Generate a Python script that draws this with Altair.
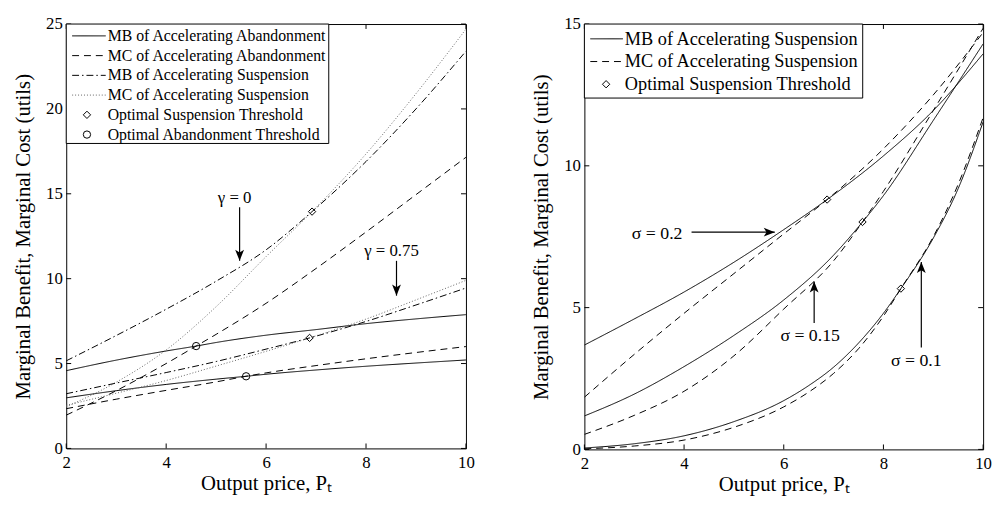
import altair as alt
import pandas as pd

FONT = "Liberation Serif"

# ---------------- data ----------------
X_TICKS = [2, 4, 6, 8, 10]
L_Y_TICKS = [0, 5, 10, 15, 20, 25]
R_Y_TICKS = [0, 5, 10, 15]

# Left panel: gamma = 0 and gamma = 0.75
ab_mb_g0_x = [2, 3, 4, 4.6, 5, 6, 7, 8, 9, 10]
ab_mb_g0_y = [4.58, 5.2, 5.74, 6.03, 6.24, 6.67, 7.0, 7.35, 7.63, 7.88]
ab_mc_g0_x = [2, 3, 4, 4.6, 5, 6, 7, 8, 9, 10]
ab_mc_g0_y = [1.96, 3.4, 5.0, 6.03, 6.72, 8.55, 10.6, 12.75, 14.95, 17.15]
su_mb_g0_x = [2, 3, 4, 5, 6, 6.92, 8, 9, 10]
su_mb_g0_y = [5.16, 6.65, 8.2, 9.85, 11.7, 13.95, 16.9, 20.0, 23.4]
su_mc_g0_x = [2, 3, 4, 5, 6, 6.92, 8, 9, 10]
su_mc_g0_y = [2.45, 3.9, 5.8, 8.35, 11.3, 13.95, 17.35, 20.9, 24.7]

ab_mb_g75_x = [2, 3, 4, 5, 5.6, 6, 7, 8, 9, 10]
ab_mb_g75_y = [2.98, 3.4, 3.77, 4.08, 4.25, 4.37, 4.62, 4.84, 5.03, 5.21]
ab_mc_g75_x = [2, 3, 4, 5, 5.6, 6, 7, 8, 9, 10]
ab_mc_g75_y = [2.34, 2.9, 3.42, 3.92, 4.25, 4.45, 4.88, 5.28, 5.65, 6.0]
su_mb_g75_x = [2, 3, 4, 5, 6, 6.87, 8, 9, 10]
su_mb_g75_y = [3.22, 3.85, 4.47, 5.12, 5.85, 6.51, 7.48, 8.45, 9.45]
su_mc_g75_x = [2, 3, 4, 5, 6, 6.87, 8, 9, 10]
su_mc_g75_y = [2.54, 3.25, 4.0, 4.85, 5.72, 6.51, 7.62, 8.75, 9.9]

left_susp_pts_x = [6.92, 6.87]
left_susp_pts_y = [13.95, 6.51]
left_aband_pts_x = [4.6, 5.6]
left_aband_pts_y = [6.03, 4.25]

# Right panel: sigma = 0.2, 0.15, 0.1
mb_s20_x = [2, 3, 4, 5, 6, 6.87, 8, 9, 10]
mb_s20_y = [3.68, 4.6, 5.55, 6.6, 7.75, 8.81, 10.35, 11.95, 13.95]
mc_s20_x = [2, 3, 4, 5, 6, 6.87, 8, 9, 10]
mc_s20_y = [1.84, 3.35, 4.8, 6.2, 7.6, 8.81, 10.6, 12.5, 14.7]
mb_s15_x = [2, 3, 4, 5, 6, 7, 7.58, 8, 9, 10]
mb_s15_y = [1.18, 1.95, 2.92, 4.02, 5.27, 6.85, 8.02, 8.95, 11.6, 14.3]
mc_s15_x = [2, 3, 4, 5, 6, 7, 7.58, 8, 9, 10]
mc_s15_y = [0.53, 1.2, 2.05, 3.3, 4.95, 6.65, 8.02, 9.1, 11.95, 14.85]
mb_s10_x = [2, 3, 4, 5, 6, 6.5, 7, 7.5, 8, 8.35, 9, 9.5, 10]
mb_s10_y = [0.05, 0.2, 0.48, 0.98, 1.72, 2.25, 2.9, 3.75, 4.8, 5.67, 7.45, 9.2, 11.55]
mc_s10_x = [2, 3, 4, 5, 6, 6.5, 7, 7.5, 8, 8.35, 9, 9.5, 10]
mc_s10_y = [0.02, 0.12, 0.33, 0.78, 1.5, 2.02, 2.68, 3.55, 4.7, 5.67, 7.5, 9.35, 11.7]

right_susp_pts_x = [6.87, 7.58, 8.35]
right_susp_pts_y = [8.81, 8.02, 5.67]

# annotations: label, text x, text y, arrow start (x, y), arrow tip (x, y), direction
left_ann_labels = ["γ = 0", "γ = 0.75"]
left_ann_text_x = [5.37, 8.51]
left_ann_text_y = [14.77, 11.63]
left_arrow_x = [5.47, 8.61]
left_arrow_y = [14.2, 11.05]
left_arrow_x2 = [5.47, 8.61]
left_arrow_y2 = [11.05, 9.0]
left_arrow_dir = ["down", "down"]

right_ann_labels = ["σ = 0.2", "σ = 0.15", "σ = 0.1"]
right_ann_text_x = [3.46, 6.53, 8.66]
right_ann_text_y = [7.59, 4.0, 3.13]
right_arrow_x = [4.15, 6.61, 8.76]
right_arrow_y = [7.66, 4.46, 3.59]
right_arrow_x2 = [5.82, 6.61, 8.76]
right_arrow_y2 = [7.66, 5.92, 6.61]
right_arrow_dir = ["right", "up", "up"]

left_legend_labels = ["MB of Accelerating Abandonment", "MC of Accelerating Abandonment",
                      "MB of Accelerating Suspension", "MC of Accelerating Suspension",
                      "Optimal Suspension Threshold", "Optimal Abandonment Threshold"]
left_legend_kinds = ["solid", "dashed", "dashdot", "dotted", "diamond", "circle"]
right_legend_labels = ["MB of Accelerating Suspension", "MC of Accelerating Suspension",
                       "Optimal Suspension Threshold"]
right_legend_kinds = ["solid", "dashed", "diamond"]

# ---------------- styling ----------------
DASH = {"solid": [1, 0], "dashed": [7, 5], "dashdot": [7, 3, 1.5, 3], "dotted": [1, 2]}
LINE_COLOR = {"solid": "black", "dashed": "black", "dashdot": "black", "dotted": "#666666"}
ARROW = {
    "down": "M0,0 L-0.4,-1 L0,-0.75 L0.4,-1 Z",
    "up": "M0,0 L-0.4,1 L0,0.75 L0.4,1 Z",
    "right": "M0,0 L-1,-0.4 L-0.75,0 L-1,0.4 Z",
}
TICK = 5
MARKER_SIZE = 55


def build_panel(series, points, ann, legend, ymax, yticks, W, H, legend_cfg, ann_size):
    xs = alt.Scale(domain=[2, 10], nice=False, zero=False)
    ys = alt.Scale(domain=[0, ymax], nice=False, zero=False)
    xaxis = alt.Axis(values=X_TICKS, format="d", title="Output price, Pₜ", ticks=False, domain=False,
                     grid=False, labelFont=FONT, labelFontSize=17, labelPadding=6, labelFlush=False,
                     labelOverlap=False, titleFont=FONT, titleFontSize=21, titleFontWeight="normal",
                     titlePadding=3, labelColor="black", titleColor="black")
    yaxis = alt.Axis(values=yticks, format="d", title="Marginal Benefit, Marginal Cost (utils)",
                     ticks=False, domain=False, grid=False, labelFont=FONT, labelFontSize=17,
                     labelPadding=4, labelFlush=False, labelOverlap=False, titleFont=FONT,
                     titleFontSize=21, titleFontWeight="normal", titlePadding=12,
                     labelColor="black", titleColor="black")
    X = lambda f="x": alt.X(f"{f}:Q", scale=xs, axis=xaxis)
    Y = lambda f="y": alt.Y(f"{f}:Q", scale=ys, axis=yaxis)

    rows = []
    for name, style, sx, sy in series:
        for a, b in zip(sx, sy):
            rows.append({"series": name, "style": style, "x": a, "y": b})
    df = pd.DataFrame(rows)
    styles = list(DASH)
    lines = alt.Chart(df).mark_line(strokeWidth=1, interpolate="monotone", clip=True).encode(
        x=X(), y=Y(), detail="series:N",
        strokeDash=alt.StrokeDash("style:N", scale=alt.Scale(domain=styles, range=[DASH[s] for s in styles]),
                                  legend=None),
        color=alt.Color("style:N", scale=alt.Scale(domain=styles, range=[LINE_COLOR[s] for s in styles]),
                        legend=None),
    )

    layers = [lines]
    for kind, px, py in points:
        pdf = pd.DataFrame({"x": px, "y": py})
        layers.append(alt.Chart(pdf).mark_point(color="black", filled=False, strokeWidth=1, size=MARKER_SIZE,
                                                opacity=1, shape=kind).encode(x=X(), y=Y()))

    labels, tx, ty, ax, ay, ax2, ay2, adir = ann
    adf = pd.DataFrame({"x": ax, "y": ay, "x2": ax2, "y2": ay2, "dir": adir})
    layers.append(alt.Chart(adf).mark_rule(color="black", strokeWidth=1.2).encode(
        x=X(), y=Y(), x2="x2:Q", y2="y2:Q"))
    for d in sorted(set(adir)):
        sub = adf[adf["dir"] == d]
        layers.append(alt.Chart(sub).mark_point(color="black", filled=True, size=500, opacity=1,
                                                strokeWidth=0, shape=ARROW[d]).encode(
            x=X("x2"), y=Y("y2")))
    tdf = pd.DataFrame({"x": tx, "y": ty, "label": labels})
    layers.append(alt.Chart(tdf).mark_text(font=FONT, fontSize=ann_size, color="black", align="center",
                                           baseline="middle").encode(x=X(), y=Y(), text="label:N"))

    xt = pd.DataFrame({"x": X_TICKS})
    yt = pd.DataFrame({"y": yticks})
    layers += [
        alt.Chart(xt).mark_rule(color="black", strokeWidth=1).encode(
            x=X(), y=alt.value(H), y2=alt.value(H - TICK)),
        alt.Chart(xt).mark_rule(color="black", strokeWidth=1).encode(
            x=X(), y=alt.value(0), y2=alt.value(TICK)),
        alt.Chart(yt).mark_rule(color="black", strokeWidth=1).encode(
            y=Y(), x=alt.value(0), x2=alt.value(TICK)),
        alt.Chart(yt).mark_rule(color="black", strokeWidth=1).encode(
            y=Y(), x=alt.value(W), x2=alt.value(W - TICK)),
    ]

    # legend box (MATLAB style, inside the axes)
    labs, kinds = legend
    lw, lh, row0, rowstep, l0, l1, mx, txx, fs = legend_cfg
    one = pd.DataFrame({"k": [0]})
    layers.append(alt.Chart(one).mark_rect(fill="white", stroke="black", strokeWidth=1).encode(
        x=alt.value(0), x2=alt.value(lw), y=alt.value(0), y2=alt.value(lh)))
    for i, (lab, kind) in enumerate(zip(labs, kinds)):
        yy = row0 + i * rowstep
        if kind in DASH:
            layers.append(alt.Chart(one).mark_rule(color=LINE_COLOR[kind], strokeWidth=1).encode(
                x=alt.value(l0), x2=alt.value(l1), y=alt.value(yy), strokeDash=alt.value(DASH[kind])))
        else:
            layers.append(alt.Chart(one).mark_point(color="black", filled=False, strokeWidth=1,
                                                    size=MARKER_SIZE, opacity=1, shape=kind).encode(
                x=alt.value(mx), y=alt.value(yy)))
        layers.append(alt.Chart(one).mark_text(font=FONT, fontSize=fs, color="black", align="left",
                                               baseline="middle").encode(
            x=alt.value(txx), y=alt.value(yy), text=alt.value(lab)))

    return alt.layer(*layers).properties(width=W, height=H)


left_series = [
    ("ab_mb_g0", "solid", ab_mb_g0_x, ab_mb_g0_y),
    ("ab_mc_g0", "dashed", ab_mc_g0_x, ab_mc_g0_y),
    ("su_mb_g0", "dashdot", su_mb_g0_x, su_mb_g0_y),
    ("su_mc_g0", "dotted", su_mc_g0_x, su_mc_g0_y),
    ("ab_mb_g75", "solid", ab_mb_g75_x, ab_mb_g75_y),
    ("ab_mc_g75", "dashed", ab_mc_g75_x, ab_mc_g75_y),
    ("su_mb_g75", "dashdot", su_mb_g75_x, su_mb_g75_y),
    ("su_mc_g75", "dotted", su_mc_g75_x, su_mc_g75_y),
]
right_series = [
    ("mb_s20", "solid", mb_s20_x, mb_s20_y),
    ("mc_s20", "dashed", mc_s20_x, mc_s20_y),
    ("mb_s15", "solid", mb_s15_x, mb_s15_y),
    ("mc_s15", "dashed", mc_s15_x, mc_s15_y),
    ("mb_s10", "solid", mb_s10_x, mb_s10_y),
    ("mc_s10", "dashed", mc_s10_x, mc_s10_y),
]

left = build_panel(
    left_series,
    [("diamond", left_susp_pts_x, left_susp_pts_y), ("circle", left_aband_pts_x, left_aband_pts_y)],
    (left_ann_labels, left_ann_text_x, left_ann_text_y, left_arrow_x, left_arrow_y,
     left_arrow_x2, left_arrow_y2, left_arrow_dir),
    (left_legend_labels, left_legend_kinds),
    25, L_Y_TICKS, 405, 430,
    (266, 121, 12, 20, 6, 40, 21, 42, 16),
    17,
)
right = build_panel(
    right_series,
    [("diamond", right_susp_pts_x, right_susp_pts_y)],
    (right_ann_labels, right_ann_text_x, right_ann_text_y, right_arrow_x, right_arrow_y,
     right_arrow_x2, right_arrow_y2, right_arrow_dir),
    (right_legend_labels, right_legend_kinds),
    15, R_Y_TICKS, 404, 431,
    (282, 75, 15, 23, 6, 39, 22, 41, 18.5),
    18,
)

chart = alt.hconcat(left, right, spacing=56).properties(
    padding={"left": 4, "top": 3, "right": 0, "bottom": 0}, background="white"
).configure_view(stroke="black", strokeWidth=1)

chart.save("out.html", embed_options={"renderer": "svg", "actions": False})
